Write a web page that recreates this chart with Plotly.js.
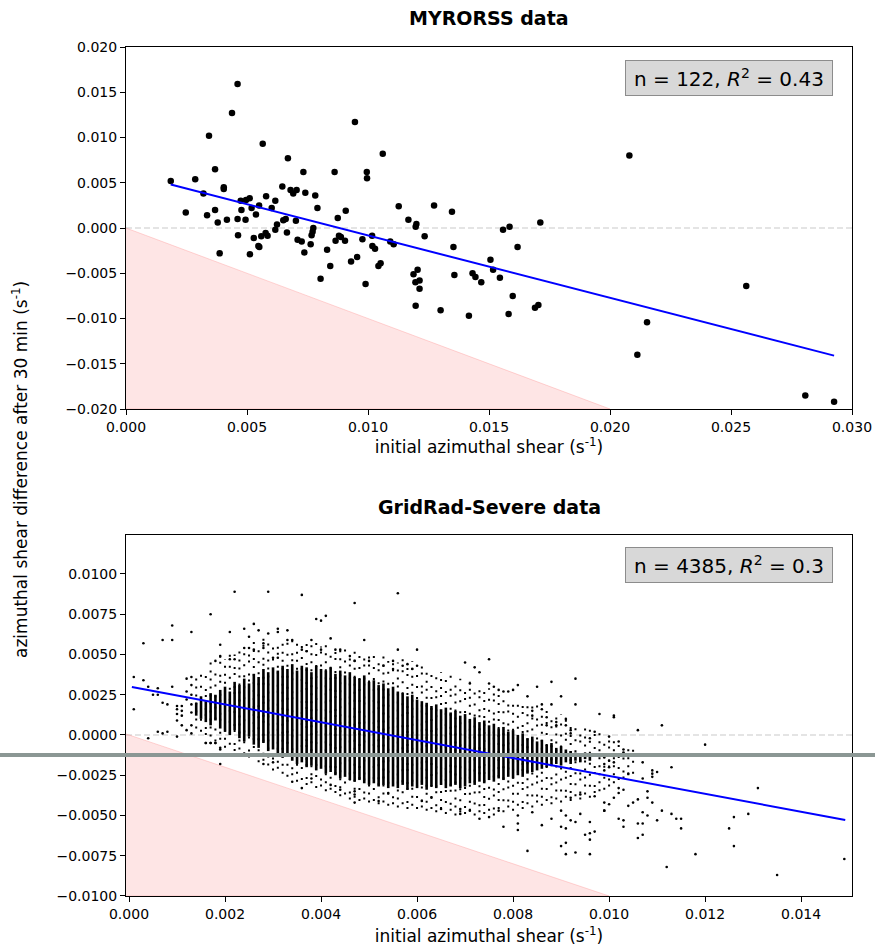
<!DOCTYPE html>
<html>
<head>
<meta charset="utf-8">
<script src="https://cdn.plot.ly/plotly-3.0.1.min.js"></script>
<style>html,body{margin:0;padding:0;background:#fff;}#chart{width:875px;height:949px;}</style>
</head>
<body>
<div id="chart"></div>
<script>
// ---------------- MYRORSS (top panel) ----------------
const topX = [0.00185,0.00247,0.00286,0.00320,0.00335,0.00343,0.00368,0.00368,0.00379,0.00404,0.00404,0.00417,0.00438,0.00461,0.00461,0.00463,0.00474,0.00477,0.00494,0.00496,
0.00511,0.00519,0.00528,0.00537,0.00550,0.00559,0.00565,0.00579,0.00577,0.00585,0.00602,0.00617,0.00617,0.00624,0.00646,0.00650,0.00660,0.00665,0.00669,0.00680,
0.00691,0.00705,0.00702,0.00709,0.00733,0.00741,0.00782,0.00791,0.00862,0.00875,0.00908,0.00946,0.00995,0.00996,0.00387,0.00512,0.00547,0.00551,0.00726,0.00737,
0.00763,0.00767,0.00771,0.00774,0.00804,0.00831,0.00844,0.00866,0.00880,0.00888,0.00905,0.00930,0.00955,0.00977,0.00990,0.01061,0.01127,0.01273,0.01347,0.01167,
0.01200,0.01197,0.01234,0.01712,0.01585,0.01558,0.01618,0.01353,0.01017,0.01018,0.01029,0.01043,0.01052,0.01092,0.01106,0.01188,0.01205,0.01196,0.01213,0.01213,
0.01197,0.01300,0.01357,0.01417,0.01432,0.01444,0.01468,0.01506,0.01517,0.01545,0.01598,0.01581,0.01690,0.01704,0.02080,0.02563,0.02153,0.02113,0.02807,0.02926];
const topY = [0.0052,0.0017,0.0054,0.0038,0.0014,0.0102,0.0065,0.0020,0.0006,0.0045,0.0043,0.0009,0.0127,0.0159,0.0010,-0.0008,0.0030,0.0020,0.0009,0.0031,
0.0033,0.0022,-0.0011,0.0015,0.0025,-0.0009,0.0093,0.0035,-0.00055,-0.00085,0.0022,0.0030,-0.0002,0.0004,0.0046,0.00085,0.0010,-0.0005,0.0077,0.0042,
0.0038,0.0042,0.0008,-0.0013,0.0062,0.0039,0.0036,0.0022,0.0062,0.0011,0.0019,0.0117,0.0062,0.0055,-0.0028,-0.0029,-0.0020,-0.0021,-0.0015,-0.0027,
-0.0018,-0.0008,-0.0004,0.0000,-0.0056,-0.0024,-0.0042,-0.0014,-0.00085,-0.0010,-0.0014,-0.0037,-0.0032,-0.00125,-0.0062,0.0082,0.0024,0.0025,0.0018,0.0009,
0.00044,0.00015,-0.0009,0.0006,0.00015,-0.0002,-0.0021,-0.0021,-0.00085,-0.0020,-0.0023,-0.0042,-0.0039,-0.0015,-0.0018,-0.0051,-0.0046,-0.0060,-0.0058,-0.0067,
-0.0086,-0.0091,-0.0052,-0.0097,-0.0050,-0.0054,-0.0060,-0.0035,-0.0046,-0.0055,-0.0075,-0.0095,-0.0088,-0.0085,0.0080,-0.0064,-0.0104,-0.0140,-0.0185,-0.0192];
const topFitX = [0.00185, 0.02926];
const topFitY = [0.0048, -0.0141];
const topStat = "n = 122, <i>R</i><sup>2</sup> = 0.43";

// ---------------- GridRad-Severe (bottom panel) ----------------
// columns of stacked points: x, dotted extent (sparse part) and solid extent (dense part)
const colX = [0.0014,0.0015,0.0016,0.0017,0.0018,0.0019,0.0020,0.0021,0.0022,0.0023,0.0024,0.0025,0.0026,0.0027,0.0028,0.0029,0.0030,0.0031,0.0032,0.0033,
0.0034,0.0035,0.0036,0.0037,0.0038,0.0039,0.0040,0.0041,0.0042,0.0043,0.0044,0.0045,0.0046,0.0047,0.0048,0.0049,0.0050,0.0051,0.0052,0.0053,
0.0054,0.0055,0.0056,0.0057,0.0058,0.0059,0.0060,0.0061,0.0062,0.0063,0.0064,0.0065,0.0066,0.0067,0.0068,0.0069,0.0070,0.0071,0.0072,0.0073,
0.0074,0.0075,0.0076,0.0077,0.0078,0.0079,0.0080,0.0081,0.0082,0.0083,0.0084,0.0085,0.0086,0.0087,0.0088,0.0089,0.0090,0.0091,0.0092,0.0093,
0.0094,0.0095,0.0096,0.0097,0.0098,0.0099,0.0100,0.0101,0.0102,0.0103,0.0104,0.0105];
const colDotTop = [0.0036,0.0041,0.0038,0.0046,0.0043,0.0049,0.0047,0.0052,0.0050,0.0054,0.0055,0.0053,0.0058,0.0056,0.0060,0.0057,0.0059,0.0061,0.0058,0.0062,
0.0059,0.0060,0.0057,0.0061,0.0056,0.0058,0.0055,0.0057,0.0054,0.0056,0.0053,0.0055,0.0051,0.0054,0.0050,0.0052,0.0049,0.0051,0.0048,0.0050,
0.0046,0.0048,0.0045,0.0047,0.0044,0.0046,0.0042,0.0044,0.0040,0.0041,0.0038,0.0039,0.0036,0.0037,0.0034,0.0035,0.0032,0.0033,0.0030,0.0031,
0.0028,0.0029,0.0026,0.0028,0.0024,0.0025,0.0022,0.0023,0.0020,0.0021,0.0018,0.0019,0.0016,0.0017,0.0014,0.0012,0.0013,0.0010,0.0008,0.0009,
0.0006,0.0004,0.0005,0.0002,0.0003,0.0000,0.0001,-0.0002,-0.0004,-0.0005,-0.0007,-0.0008];
const colDotBot = [0.0004,0.0002,0.0000,-0.0001,-0.0004,-0.0003,-0.0008,-0.0006,-0.0010,-0.0009,-0.0012,-0.0014,-0.0013,-0.0017,-0.0016,-0.0019,-0.0022,-0.0021,-0.0024,-0.0026,
-0.0025,-0.0029,-0.0028,-0.0031,-0.0030,-0.0033,-0.0032,-0.0035,-0.0034,-0.0036,-0.0038,-0.0037,-0.0040,-0.0039,-0.0041,-0.0040,-0.0042,-0.0041,-0.0043,-0.0042,
-0.0044,-0.0043,-0.0045,-0.0043,-0.0046,-0.0044,-0.0046,-0.0045,-0.0047,-0.0046,-0.0048,-0.0046,-0.0049,-0.0047,-0.0050,-0.0048,-0.0049,-0.0047,-0.0050,-0.0048,
-0.0049,-0.0047,-0.0050,-0.0046,-0.0048,-0.0045,-0.0047,-0.0044,-0.0046,-0.0043,-0.0045,-0.0042,-0.0044,-0.0041,-0.0043,-0.0040,-0.0042,-0.0039,-0.0041,-0.0038,
-0.0040,-0.0037,-0.0039,-0.0036,-0.0035,-0.0034,-0.0032,-0.0030,-0.0028,-0.0027,-0.0025,-0.0024];
const colSolTop = [0.0020,0.0024,0.0021,0.0026,0.0025,0.0028,0.0030,0.0027,0.0033,0.0031,0.0035,0.0032,0.0038,0.0036,0.0041,0.0039,0.0042,0.0040,0.0043,0.0041,
0.0044,0.0040,0.0043,0.0042,0.0039,0.0043,0.0041,0.0040,0.0042,0.0038,0.0040,0.0037,0.0039,0.0036,0.0035,0.0037,0.0033,0.0034,0.0031,0.0032,
0.0029,0.0030,0.0027,0.0026,0.0024,0.0025,0.0022,0.0021,0.0020,0.0018,0.0019,0.0016,0.0017,0.0014,0.0015,0.0012,0.0013,0.0010,0.0011,0.0008,
0.0009,0.0006,0.0007,0.0004,0.0005,0.0002,0.0003,0.0000,0.0001,-0.0002,-0.0001,-0.0004,-0.0003,-0.0006,-0.0005,-0.0008,-0.0007,-0.0009,-0.0010,-0.0011,
-0.0012,-0.0011,-0.0013,null,null,null,null,null,null,null,null,null];
const colSolBot = [0.0012,0.0010,0.0008,0.0006,0.0009,0.0004,0.0002,0.0000,0.0003,-0.0002,-0.0004,-0.0001,-0.0006,-0.0008,-0.0005,-0.0010,-0.0009,-0.0012,-0.0014,-0.0013,
-0.0016,-0.0018,-0.0017,-0.0020,-0.0019,-0.0022,-0.0021,-0.0024,-0.0023,-0.0025,-0.0027,-0.0026,-0.0028,-0.0029,-0.0028,-0.0030,-0.0031,-0.0030,-0.0032,-0.0031,
-0.0033,-0.0032,-0.0033,-0.0031,-0.0034,-0.0032,-0.0033,-0.0031,-0.0034,-0.0032,-0.0033,-0.0031,-0.0033,-0.0032,-0.0031,-0.0033,-0.0032,-0.0030,-0.0031,-0.0029,
-0.0030,-0.0028,-0.0029,-0.0027,-0.0028,-0.0026,-0.0027,-0.0025,-0.0026,-0.0024,-0.0023,-0.0022,-0.0021,-0.0020,-0.0019,-0.0018,-0.0019,-0.0017,-0.0018,-0.0016,
-0.0017,-0.0015,-0.0016,null,null,null,null,null,null,null,null,null];
// isolated points
const outX = [0.0001,0.0001,0.0003,0.0003,0.0004,0.0004,0.0005,0.0006,0.0006,0.0006,0.0007,0.0008,0.0007,0.0009,0.0009,0.0007,0.0008,0.0009,0.0010,0.0010,
0.0010,0.0010,0.0010,0.0011,0.0011,0.0011,0.0011,0.0012,0.0012,0.0012,0.0012,0.0013,0.0013,0.0013,0.0013,0.0013,0.0013,0.0013,0.0013,0.0016,
0.0017,0.0018,0.0019,0.0017,0.0022,0.0029,0.0036,0.0047,0.0021,0.0024,0.0026,0.0027,0.0029,0.0031,0.0031,0.0033,0.0039,0.0040,0.0041,0.0042,
0.0019,0.0018,0.0019,0.0025,0.0024,0.0025,0.0026,0.0021,0.0022,0.0028,0.0028,0.0030,0.0031,0.0033,0.0034,0.0036,0.0038,0.0037,0.0040,0.0043,
0.0044,0.0046,0.0049,0.0056,0.0056,0.0060,0.0050,0.0047,0.0053,0.0055,0.0055,0.0057,0.0058,0.0059,0.0060,0.0070,0.0072,0.0075,0.0073,0.0071,
0.0075,0.0076,0.0077,0.0078,0.0079,0.0080,0.0081,0.0083,0.0085,0.0088,0.0090,0.0093,0.0093,0.0088,0.0086,0.0086,0.0084,0.0084,0.0091,0.0091,
0.0089,0.0089,0.0087,0.0087,0.0092,0.0092,0.0096,0.0098,0.0097,0.0101,0.0101,0.0106,0.0111,0.0120,0.0113,0.0109,0.0109,0.0109,0.0110,0.0107,
0.0107,0.0104,0.0131,0.0102,0.0102,0.0103,0.0108,0.0108,0.0101,0.0099,0.0099,0.0100,0.0105,0.0104,0.0106,0.0109,0.0107,0.0107,0.0108,0.0111,
0.0113,0.0114,0.0115,0.0115,0.0110,0.0102,0.0103,0.0103,0.0106,0.0107,0.0106,0.0126,0.0129,0.0125,0.0126,0.0118,0.0112,0.0135,0.0149,0.0100,
0.0102,0.0103,0.0103,0.0099,0.0100,0.0099,0.0100,0.0099,0.0101,0.0019,0.0028,0.0030,0.0034,0.0036,0.0038,0.0042,0.0044,0.0047,0.0047,0.0047,
0.0052,0.0054,0.0061,0.0063,0.0065,0.0069,0.0069,0.0071,0.0073,0.0075,0.0077,0.0078,0.0081,0.0081,0.0081,0.0083,0.0084,0.0086,0.0088,0.0090,
0.0090,0.0091,0.0091,0.0092,0.0093,0.0094,0.0096,0.0090,0.0091,0.0091,0.0093,0.0095,0.0096,0.0096,0.0096,0.0097,0.0099,0.0097,0.0094,0.0092,
0.0016,0.0017,0.0018,0.0019];
const outY = [0.0036,0.0016,0.0057,0.0034,0.0030,-0.0002,0.0025,0.0025,0.0029,0.0002,0.0001,0.0002,0.0059,0.0059,0.0068,0.0020,0.0019,0.0030,0.0018,0.0016,
0.0013,0.0009,-0.0001,0.0018,0.0015,0.0012,0.0006,0.0035,0.0027,0.0022,0.0003,0.0064,0.0036,0.0031,0.0025,0.0019,0.0014,0.0006,0.0001,-0.0005,
0.0075,-0.0005,-0.0008,-0.0005,0.0089,0.0089,0.0087,0.0082,0.0064,0.0066,0.0069,0.0065,0.0063,0.0066,0.0064,0.0065,0.0072,0.0071,0.0074,0.0060,
0.0056,0.0046,0.0049,0.0061,0.0054,0.0054,0.0053,0.0047,0.0047,0.0057,0.0054,0.0048,0.0048,0.0059,0.0059,0.0053,0.0059,0.0052,0.0053,0.0053,
0.0053,0.0049,0.0059,0.0088,0.0053,0.0053,0.0046,0.0046,0.0043,0.0046,0.0041,0.0043,0.0044,0.0041,0.0043,0.0045,0.0042,0.0047,0.0039,0.0032,
0.0032,0.0030,0.0028,0.0027,0.0027,0.0028,0.0031,0.0024,0.0030,0.0033,0.0024,0.0035,0.0019,0.0019,0.0019,0.0016,0.0015,0.0012,0.0010,0.0006,
0.0008,0.0006,0.0011,0.0006,0.0003,0.0001,-0.0002,0.0013,0.0002,0.0011,0.0012,0.0003,0.0006,-0.0006,-0.0020,-0.0022,-0.0024,-0.0026,-0.0023,-0.0017,
-0.0027,-0.0024,-0.0033,-0.0033,-0.0036,-0.0034,-0.0035,-0.0039,-0.0039,-0.0042,-0.0047,-0.0043,-0.0042,-0.0044,-0.0040,-0.0042,-0.0048,-0.0055,-0.0050,-0.0047,
-0.0049,-0.0052,-0.0052,-0.0058,-0.0053,-0.0052,-0.0053,-0.0057,-0.0055,-0.0062,-0.0064,-0.0051,-0.0049,-0.0058,-0.0069,-0.0074,-0.0082,-0.0087,-0.0077,-0.0001,
-0.0004,-0.0009,-0.0011,-0.0014,-0.0016,-0.0018,-0.0020,-0.0022,-0.0017,-0.0018,-0.0018,-0.0017,-0.0029,-0.0033,-0.0027,-0.0031,-0.0034,-0.0035,-0.0037,-0.0042,
-0.0041,-0.0036,-0.0041,-0.0039,-0.0046,-0.0046,-0.0049,-0.0047,-0.0052,-0.0051,-0.0047,-0.0057,-0.0050,-0.0055,-0.0059,-0.0072,-0.0048,-0.0056,-0.0052,-0.0047,
-0.0057,-0.0050,-0.0058,-0.0053,-0.0054,-0.0049,-0.0054,-0.0069,-0.0067,-0.0074,-0.0073,-0.0062,-0.0061,-0.0065,-0.0074,-0.0060,-0.0047,-0.0038,-0.0037,-0.0039,
-0.0005,-0.0005,-0.0005,-0.0009];
const botFitX = [0.00006, 0.01492];
const botFitY = [0.00298, -0.00528];
const botStat = "n = 4385, <i>R</i><sup>2</sup> = 0.3";

const titles = ["MYRORSS data", "GridRad-Severe data"];
const xTitle = "initial azimuthal shear (s<sup>-1</sup>)";
const yTitle = "azimuthal shear difference after 30 min (s<sup>-1</sup>)";

// ---------------- build traces ----------------
function segs(xs, y0s, y1s, group, nGroups) {
  const X = [], Y = [];
  for (let i = 0; i < xs.length; i++) {
    if (y0s[i] === null || y1s[i] === null) continue;
    if (nGroups && (i % nGroups) !== group) continue;
    X.push(xs[i], xs[i], null); Y.push(y0s[i], y1s[i], null);
  }
  return {X, Y};
}
const dashStyles = ['2px,6px', '2px,9px', '2px,4px,2px,11px'];
const solid = segs(colX, colSolBot, colSolTop);

const pink = 'rgba(250,150,150,0.25)';
const botXmin = -0.0000625;
const traces = [
  {x:[0,0.02,0], y:[0,-0.02,-0.02], xaxis:'x', yaxis:'y', mode:'lines', fill:'toself', fillcolor:pink, line:{color:'rgba(255,140,140,0.35)', width:1}, hoverinfo:'skip'},
  {x:[botXmin,0.01,botXmin], y:[-botXmin,-0.01,-0.01], xaxis:'x2', yaxis:'y2', mode:'lines', fill:'toself', fillcolor:pink, line:{color:'rgba(255,140,140,0.35)', width:1}, hoverinfo:'skip'},
  {x:topX, y:topY, xaxis:'x', yaxis:'y', mode:'markers', marker:{color:'#000', size:6.5}},
  {x:topFitX, y:topFitY, xaxis:'x', yaxis:'y', mode:'lines', line:{color:'#0000ff', width:2}}
];
for (let g = 0; g < 3; g++) {
  const d = segs(colX, colDotBot, colDotTop, g, 3);
  traces.push({x:d.X, y:d.Y, xaxis:'x2', yaxis:'y2', mode:'lines', connectgaps:false, line:{color:'#000', width:2, dash:dashStyles[g]}});
}
traces.push(
  {x:solid.X, y:solid.Y, xaxis:'x2', yaxis:'y2', mode:'lines', connectgaps:false, line:{color:'#000', width:2.6}},
  {x:outX, y:outY, xaxis:'x2', yaxis:'y2', mode:'markers', marker:{color:'#000', size:2.6}},
  {x:botFitX, y:botFitY, xaxis:'x2', yaxis:'y2', mode:'lines', line:{color:'#0000ff', width:2}}
);

const font = {family:'DejaVu Sans, sans-serif', color:'#000'};
const axisCommon = {
  showline:true, linecolor:'#000', linewidth:1, mirror:true,
  ticks:'outside', ticklen:5, tickwidth:1, tickcolor:'#000',
  showgrid:false, zeroline:false,
  tickfont:{family:'DejaVu Sans, sans-serif', size:14, color:'#000'}
};
const layout = {
  width:875, height:949,
  margin:{l:126, r:23, t:47, b:53},
  paper_bgcolor:'#fff', plot_bgcolor:'#fff',
  showlegend:false, font:font,
  xaxis:Object.assign({}, axisCommon, {anchor:'y', domain:[0,1], range:[0,0.03], tickvals:[0,0.005,0.01,0.015,0.02,0.025,0.03], tickformat:'.3f',
    title:{text:xTitle, font:{family:'DejaVu Sans, sans-serif', size:17, color:'#000'}, standoff:7}}),
  yaxis:Object.assign({}, axisCommon, {anchor:'x', domain:[0.5736,1], range:[-0.02,0.02], tickvals:[-0.02,-0.015,-0.01,-0.005,0,0.005,0.01,0.015,0.02], tickformat:'.3f'}),
  xaxis2:Object.assign({}, axisCommon, {anchor:'y2', domain:[0,1], range:[botXmin,0.01506], tickvals:[0,0.002,0.004,0.006,0.008,0.01,0.012,0.014], tickformat:'.3f',
    title:{text:xTitle, font:{family:'DejaVu Sans, sans-serif', size:17, color:'#000'}, standoff:9}}),
  yaxis2:Object.assign({}, axisCommon, {anchor:'x2', domain:[0,0.4252], range:[-0.01,0.01242], tickvals:[-0.01,-0.0075,-0.005,-0.0025,0,0.0025,0.005,0.0075,0.01], tickformat:'.4f'}),
  shapes:[
    {type:'line', xref:'x domain', yref:'y', x0:0, x1:1, y0:0, y1:0, line:{color:'#dcdcdc', width:1.5, dash:'6px,3px'}, layer:'below'},
    {type:'line', xref:'x2 domain', yref:'y2', x0:0, x1:1, y0:0, y1:0, line:{color:'#dcdcdc', width:1.5, dash:'6px,3px'}, layer:'below'},
    {type:'line', xref:'paper', yref:'y2', x0:-0.1736, x1:1.0317, y0:-0.00124, y1:-0.00124, line:{color:'#8b9794', width:4}, layer:'above'}
  ],
  annotations:[
    {text:'<b>'+titles[0]+'</b>', xref:'paper', yref:'paper', x:0.5, y:1.034, xanchor:'center', yanchor:'middle', showarrow:false, font:{family:'DejaVu Sans, sans-serif', size:19, color:'#000'}},
    {text:'<b>'+titles[1]+'</b>', xref:'paper', yref:'paper', x:0.5, y:0.4582, xanchor:'center', yanchor:'middle', showarrow:false, font:{family:'DejaVu Sans, sans-serif', size:19, color:'#000'}},
    {text:yTitle, xref:'paper', yref:'paper', x:-0.146, y:0.5018, xanchor:'center', yanchor:'middle', textangle:-90, showarrow:false, font:{family:'DejaVu Sans, sans-serif', size:17, color:'#000'}},
    {text:'\u2009'+topStat+'\u2009', xref:'x domain', yref:'y domain', x:0.9738, y:0.964, xanchor:'right', yanchor:'top', showarrow:false, bgcolor:'#d8d8d8', bordercolor:'#8c8c8c', borderwidth:1, borderpad:4, font:{family:'DejaVu Sans, sans-serif', size:20, color:'#000'}},
    {text:'\u2009'+botStat+'\u2009', xref:'x2 domain', yref:'y2 domain', x:0.9738, y:0.967, xanchor:'right', yanchor:'top', showarrow:false, bgcolor:'#d8d8d8', bordercolor:'#8c8c8c', borderwidth:1, borderpad:4, font:{family:'DejaVu Sans, sans-serif', size:20, color:'#000'}}
  ]
};
Plotly.newPlot('chart', traces, layout, {staticPlot:true, displayModeBar:false});
</script>
</body>
</html>
